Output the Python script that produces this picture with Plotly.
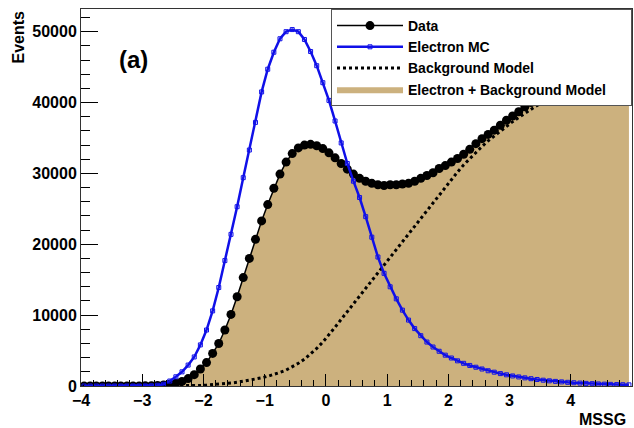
import numpy as np
import plotly.graph_objects as go

# bin centers of the MSSG histogram (-4 .. 5, width 0.1)
bin_centers = np.round(np.arange(-3.95, 5.0, 0.1), 2)

data_events = [
    0, 0, 0, 0, 0, 0, 0, 0, 0, 10,
    20, 40, 80, 150, 250, 400, 650, 1050, 1600, 2400,
    3300, 4600, 6000, 7900, 10100, 12600, 15300, 18000, 20700, 23300,
    25600, 27900, 29900, 31600, 32800, 33600, 34000, 34100, 33900, 33500,
    32900, 32200, 31400, 30600, 29900, 29300, 28900, 28600, 28400, 28300,
    28400, 28400, 28500, 28600, 28900, 29300, 29700, 30100, 30700, 31100,
    31600, 32100, 32700, 33400, 34200, 34900, 35500, 36100, 36800, 37500,
    38100, 38700, 39400, 40000, 40600, 41200, 41700, 42200, 42700, 43200,
    43600, 44000, 44400, 44800, 45100, 45400, 45700, 46000, 46300, 46500,
]

electron_mc = [
    0, 0, 0, 0, 0, 0, 0, 0, 0, 0,
    10, 30, 100, 250, 700, 1300, 2000, 2950, 4100, 5800,
    7900, 10600, 13900, 17700, 21400, 25300, 29400, 33300, 37200, 41500,
    44700, 47100, 49000, 50000, 50300, 50000, 48900, 47200, 45200, 42800,
    40300, 37400, 34300, 31400, 28900, 26600, 23900, 21000, 18200, 15900,
    14000, 12300, 10700, 9300, 8100, 7100, 6200, 5500, 4900, 4350,
    3950, 3550, 3200, 2900, 2650, 2400, 2150, 1950, 1750, 1580,
    1420, 1280, 1150, 1030, 920, 820, 730, 650, 580, 520,
    460, 410, 370, 330, 290, 260, 230, 200, 180, 160,
]

background_model = [
    0, 0, 0, 0, 0, 0, 0, 0, 0, 0,
    0, 0, 0, 0, 0, 0, 10, 25, 50, 80,
    120, 170, 230, 310, 410, 520, 650, 800, 960, 1150,
    1370, 1620, 1920, 2250, 2700, 3200, 3800, 4500, 5300, 6200,
    7200, 8300, 9400, 10500, 11600, 12700, 13800, 14900, 16000, 17100,
    18200, 19300, 20400, 21500, 22600, 23700, 24800, 25900, 27000, 28100,
    29200, 30200, 31200, 32100, 33000, 33800, 34600, 35300, 36000, 36700,
    37300, 37900, 38500, 39100, 39600, 40100, 40600, 41000, 41400, 41800,
    42200, 42500, 42800, 43100, 43400, 43700, 44000, 44200, 44400, 44600,
]

electron_plus_background = [
    0, 0, 0, 0, 0, 0, 0, 0, 0, 10,
    20, 40, 80, 150, 250, 400, 650, 1050, 1600, 2400,
    3300, 4600, 6000, 7900, 10100, 12600, 15300, 18000, 20700, 23300,
    25600, 27900, 29900, 31600, 32800, 33600, 34000, 34100, 33900, 33500,
    32900, 32200, 31400, 30600, 29900, 29300, 28900, 28600, 28400, 28300,
    28400, 28400, 28500, 28600, 28900, 29300, 29700, 30100, 30700, 31100,
    31600, 32100, 32700, 33400, 34200, 34900, 35500, 36100, 36800, 37500,
    38100, 38700, 39400, 40000, 40600, 41200, 41700, 42200, 42700, 43200,
    43600, 44000, 44400, 44800, 45100, 45400, 45700, 46000, 46300, 46500,
]

FONT = "Liberation Sans"
TAN = "#CCB17E"
BLUE = "#1010E8"
PAD = "\u00a0" * 5  # widens the legend box to the reference width

fig = go.Figure()

fig.add_trace(go.Scatter(
    x=bin_centers, y=electron_plus_background, name="Electron + Background Model" + PAD,
    mode="lines", fill="tozeroy", fillcolor=TAN, line=dict(color=TAN, width=0),
    legendrank=4,
))
fig.add_trace(go.Scatter(
    x=bin_centers, y=background_model, name="Background Model",
    mode="lines", line=dict(color="black", width=3, dash="dot"),
    legendrank=3,
))
fig.add_trace(go.Scatter(
    x=bin_centers, y=data_events, name="Data",
    mode="lines+markers", line=dict(color="black", width=1.5),
    marker=dict(color="black", size=9, symbol="circle"),
    legendrank=1,
))
fig.add_trace(go.Scatter(
    x=bin_centers, y=electron_mc, name="Electron MC",
    mode="lines+markers", line=dict(color=BLUE, width=2.5),
    marker=dict(symbol="square-open", size=4, color=BLUE, line=dict(width=1, color=BLUE)),
    legendrank=2,
))

axis_font = dict(family=FONT, size=16, color="black", weight="bold")

fig.update_xaxes(
    range=[-4, 5], tick0=-4, dtick=1, ticks="inside", ticklen=12, tickwidth=1,
    tickcolor="black", minor=dict(dtick=0.2, ticks="inside", ticklen=6, tickcolor="black"),
    showline=True, linecolor="#333", linewidth=1, mirror=True,
    showgrid=False, zeroline=False, tickfont=axis_font,
)
fig.update_yaxes(
    range=[0, 53200], tick0=0, dtick=10000, tickformat="d", ticks="inside",
    ticklen=17, tickwidth=1, tickcolor="black",
    minor=dict(dtick=2000, ticks="inside", ticklen=9, tickcolor="black"),
    showline=True, linecolor="#333", linewidth=1, mirror=True,
    showgrid=False, zeroline=False, tickfont=axis_font,
)

fig.update_layout(
    width=634, height=428,
    margin=dict(l=81, r=2, t=9, b=42),
    paper_bgcolor="white", plot_bgcolor="white",
    showlegend=True,
    legend=dict(
        x=1, xanchor="right", y=1, yanchor="top",
        bgcolor="white", bordercolor="#555", borderwidth=1,
        font=dict(family=FONT, size=14, color="black", weight="bold"),
        itemwidth=66, traceorder="normal",
    ),
    annotations=[
        dict(text="Events", xref="paper", yref="paper", x=-0.114, y=0.925,
             xanchor="center", yanchor="middle", textangle=-90, showarrow=False,
             font=dict(family=FONT, size=16, color="black", weight="bold")),
        dict(text="MSSG", xref="paper", yref="paper", x=0.993, y=-0.09,
             xanchor="right", yanchor="middle", showarrow=False,
             font=dict(family=FONT, size=16, color="black", weight="bold")),
        dict(text="(a)", xref="paper", yref="paper", x=0.096, y=0.865,
             xanchor="center", yanchor="middle", showarrow=False,
             font=dict(family=FONT, size=24, color="black", weight="bold")),
    ],
)

fig.write_html("out.html")
